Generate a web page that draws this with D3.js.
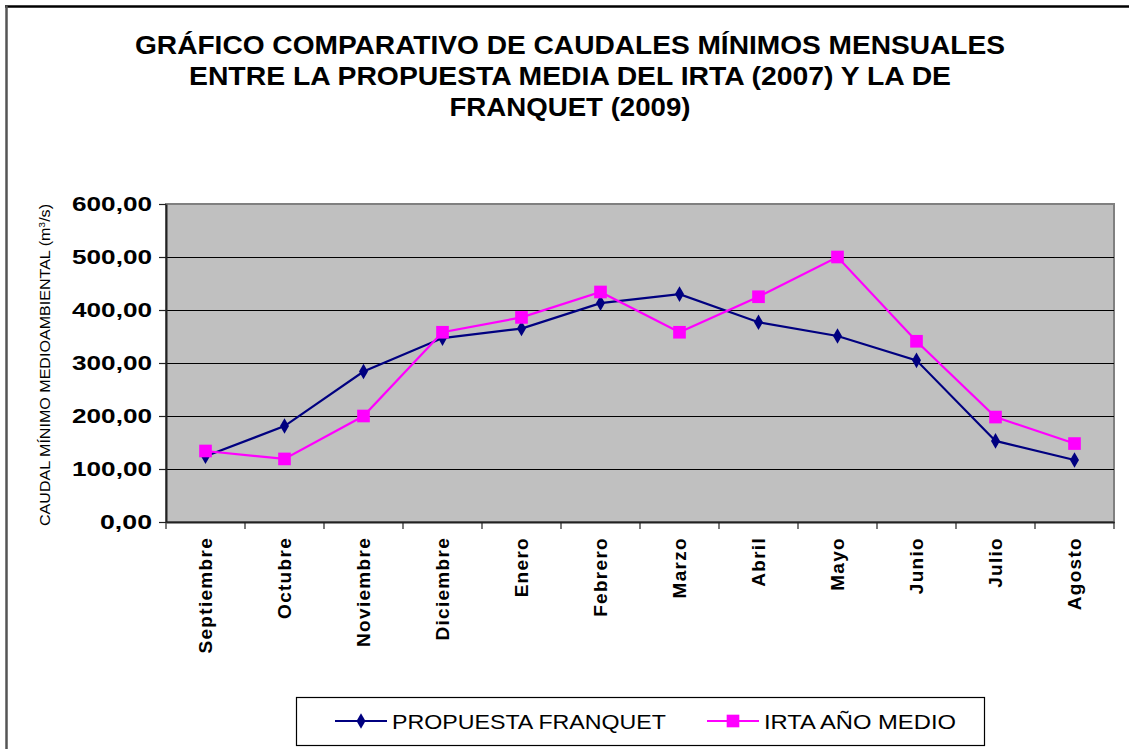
<!DOCTYPE html>
<html>
<head>
<meta charset="utf-8">
<script src="https://cdn.jsdelivr.net/npm/d3@7"></script>
<style>
  body { margin: 0; background: #fff; }
  text { font-family: "Liberation Sans", Arial, sans-serif; }
</style>
</head>
<body>
<div id="chart"></div>
<script>
// chart data
const months = ["Septiembre", "Octubre", "Noviembre", "Diciembre", "Enero", "Febrero",
    "Marzo", "Abril", "Mayo", "Junio", "Julio", "Agosto"];
const franquet = [124, 181, 284, 347, 365, 413, 430, 377, 351, 305, 153, 117];
const irta = [134, 119, 200, 358, 386, 434, 358, 425, 500, 341, 198, 148];
const yTicks = [0, 100, 200, 300, 400, 500, 600];
const titleLines = [
    "GRÁFICO COMPARATIVO DE CAUDALES MÍNIMOS MENSUALES",
    "ENTRE LA PROPUESTA MEDIA DEL IRTA (2007)  Y LA DE",
    "FRANQUET (2009)"
];
const series = [
    { name: "PROPUESTA FRANQUET", values: franquet, color: "#000080", marker: "diamond" },
    { name: "IRTA AÑO MEDIO", values: irta, color: "#ff00ff", marker: "square" }
];

const W = 1129, H = 749;
const plot = { left: 166, top: 204, right: 1114, bottom: 522 };

const svg = d3.select("#chart").append("svg")
    .attr("width", W)
    .attr("height", H);

// outer frame (top and left only)
svg.append("line")
    .attr("x1", 5).attr("x2", W).attr("y1", 6.5).attr("y2", 6.5)
    .attr("stroke", "#000").attr("stroke-width", 2.5);
svg.append("line")
    .attr("x1", 6.5).attr("x2", 6.5).attr("y1", 6).attr("y2", H)
    .attr("stroke", "#555").attr("stroke-width", 2.5);

// title
const titleWidths = [870, 762, 241];
svg.append("g").selectAll("text")
    .data(titleLines)
    .join("text")
    .attr("x", 570)
    .attr("y", (_, i) => 54 + i * 31)
    .attr("text-anchor", "middle")
    .attr("font-size", 26)
    .attr("font-weight", "bold")
    .attr("textLength", (_, i) => titleWidths[i])
    .attr("lengthAdjust", "spacingAndGlyphs")
    .text(d => d);

// scales
const x = d3.scaleBand(months, [plot.left, plot.right]);
const y = d3.scaleLinear([0, 600], [plot.bottom, plot.top]);

// plot background
svg.append("rect")
    .attr("x", plot.left).attr("y", plot.top)
    .attr("width", plot.right - plot.left)
    .attr("height", plot.bottom - plot.top)
    .attr("fill", "#c0c0c0")
    .attr("stroke", "#808080")
    .attr("stroke-width", 2);

// gridlines
svg.append("g").selectAll("line")
    .data(yTicks.filter(d => d > 0 && d < 600))
    .join("line")
    .attr("x1", plot.left).attr("x2", plot.right)
    .attr("y1", d => Math.round(y(d)) + 0.5)
    .attr("y2", d => Math.round(y(d)) + 0.5)
    .attr("stroke", "#000")
    .attr("stroke-width", 1.2);

// y axis
const yAxis = svg.append("g")
    .attr("transform", `translate(${plot.left},0)`)
    .call(d3.axisLeft(y).tickValues(yTicks).tickSize(7).tickSizeOuter(0)
        .tickFormat(d => d3.format(".2f")(d).replace(".", ",")));
yAxis.select(".domain").attr("stroke", "#222").attr("stroke-width", 2);
yAxis.selectAll(".tick line").attr("stroke", "#222").attr("stroke-width", 1.2);
yAxis.selectAll(".tick text")
    .attr("x", -14)
    .attr("font-size", 21)
    .attr("font-weight", "bold")
    .attr("textLength", d => d === 0 ? 52 : 80)
    .attr("lengthAdjust", "spacingAndGlyphs")
    .attr("fill", "#000")
    .attr("font-family", "'Liberation Sans', Arial, sans-serif");

// y label
svg.append("text")
    .attr("transform", `translate(50,${(plot.top + plot.bottom) / 2 + 2}) rotate(-90)`)
    .attr("text-anchor", "middle")
    .attr("font-size", 14)
    .attr("textLength", 322)
    .attr("lengthAdjust", "spacingAndGlyphs")
    .text("CAUDAL MÍNIMO MEDIOAMBIENTAL (m")
    .append("tspan").attr("baseline-shift", "super").attr("font-size", 9).text("3")
    .select(function () { return this.parentNode; })
    .append("tspan").text("/s)");

// x axis
const xAxis = svg.append("g")
    .attr("transform", `translate(0,${plot.bottom})`)
    .call(d3.axisBottom(x).tickSize(0).tickSizeOuter(0));
xAxis.select(".domain").attr("stroke", "#222").attr("stroke-width", 2);
// ticks at band boundaries
xAxis.selectAll(".bound")
    .data(months.map(m => x(m)).concat([plot.right]))
    .join("line")
    .classed("bound", true)
    .attr("x1", d => d).attr("x2", d => d)
    .attr("y1", 0).attr("y2", 7)
    .attr("stroke", "#222").attr("stroke-width", 1.2);
xAxis.selectAll(".tick text")
    .attr("transform", "rotate(-90)")
    .attr("x", -15)
    .attr("y", 0)
    .attr("dy", "0.35em")
    .attr("text-anchor", "end")
    .attr("font-size", 19)
    .attr("font-weight", "bold")
    .attr("letter-spacing", 1.3)
    .attr("fill", "#000")
    .attr("font-family", "'Liberation Sans', Arial, sans-serif");

// lines and markers
const line = d3.line()
    .x((_, i) => x(months[i]) + x.bandwidth() / 2)
    .y(d => y(d));

const diamond = d3.symbol(d3.symbolDiamond, 70);
const square = d3.symbol(d3.symbolSquare, 160);

series.forEach(s => {
    svg.append("path")
        .datum(s.values)
        .attr("fill", "none")
        .attr("stroke", s.color)
        .attr("stroke-width", 2.2)
        .attr("d", line);
    svg.append("g").selectAll("path")
        .data(s.values)
        .join("path")
        .attr("transform", (d, i) => `translate(${x(months[i]) + x.bandwidth() / 2},${y(d)})`)
        .attr("fill", s.color)
        .attr("d", s.marker === "diamond" ? diamond : square);
});

// legend
const legend = svg.append("g");
legend.append("rect")
    .attr("x", 296.5).attr("y", 697.5)
    .attr("width", 688).attr("height", 48)
    .attr("fill", "#fff")
    .attr("stroke", "#000")
    .attr("stroke-width", 1.2);
const legendX = [335, 707];
const legendTextW = [274, 192];
series.forEach((s, i) => {
    const g = legend.append("g").attr("transform", `translate(${legendX[i]},721)`);
    g.append("line")
        .attr("x1", 0).attr("x2", 52)
        .attr("stroke", s.color).attr("stroke-width", 2.2);
    g.append("path")
        .attr("transform", "translate(26,0)")
        .attr("fill", s.color)
        .attr("d", s.marker === "diamond" ? diamond : square);
    g.append("text")
        .attr("x", 57)
        .attr("dy", "0.36em")
        .attr("font-size", 21)
        .attr("textLength", legendTextW[i])
        .attr("lengthAdjust", "spacingAndGlyphs")
        .text(s.name);
});
</script>
</body>
</html>
